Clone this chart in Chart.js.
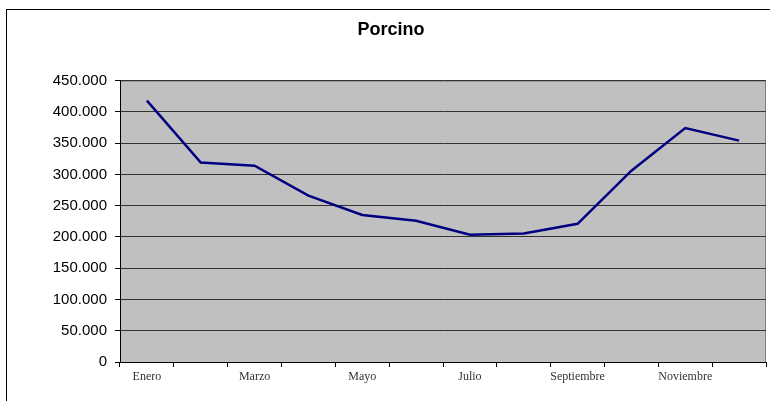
<!DOCTYPE html>
<html>
<head>
<meta charset="utf-8">
<script src="https://cdn.jsdelivr.net/npm/chart.js@4"></script>
<style>
  body { margin: 0; background: #fff; }
</style>
</head>
<body>
<canvas id="chart" width="770" height="401"></canvas>
<script>
const months = ["Enero", "Febrero", "Marzo", "Abril", "Mayo", "Junio", "Julio",
                "Agosto", "Septiembre", "Octubre", "Noviembre", "Diciembre"];
const porcino = [418000, 319000, 314000, 266000, 235000, 226000, 203500,
                 205500, 221000, 306000, 374000, 354000];
const yTicks = [0, 50000, 100000, 150000, 200000, 250000, 300000, 350000, 400000, 450000];

function fmt(v) {
  return String(v).replace(/\B(?=(\d{3})+(?!\d))/g, ".");
}

// gray plot area + outer frame, like the old Excel chart
const excelLook = {
  id: "excelLook",
  beforeDraw(chart) {
    const { ctx, chartArea: a } = chart;
    ctx.save();
    ctx.fillStyle = "#fff";
    ctx.fillRect(0, 0, chart.width, chart.height);
    ctx.fillStyle = "#C0C0C0";
    ctx.fillRect(a.left, a.top, a.right - a.left, a.bottom - a.top);
    ctx.strokeStyle = "#808080";
    ctx.lineWidth = 1;
    ctx.strokeRect(a.left + 0.5, a.top + 0.5, a.right - a.left - 1, a.bottom - a.top);
    ctx.strokeStyle = "#000";
    ctx.strokeRect(6.5, 9.5, chart.width + 20, chart.height + 20);
    ctx.restore();
  }
};

new Chart(document.getElementById("chart").getContext("2d"), {
  type: "line",
  data: {
    labels: months,
    datasets: [{
      label: "Porcino",
      data: porcino,
      borderColor: "#000080",
      borderWidth: 2.5,
      pointRadius: 0,
      tension: 0,
      fill: false
    }]
  },
  options: {
    responsive: false,
    animation: false,
    layout: { padding: { left: 16, right: 4, top: 0, bottom: 0 } },
    plugins: {
      legend: { display: false },
      tooltip: { enabled: false },
      title: {
        display: true,
        text: "Porcino",
        color: "#000",
        font: { family: "Arial, 'Liberation Sans'", size: 18, weight: "bold" },
        padding: { top: 19, bottom: 40 }
      }
    },
    scales: {
      x: {
        offset: true,
        grid: { offset: true, drawOnChartArea: false, tickLength: 5, color: "#000" },
        border: { color: "#000" },
        ticks: {
          autoSkip: false,
          maxRotation: 0,
          padding: 3,
          color: "#333",
          font: { family: "'Liberation Serif', serif", size: 12 },
          callback: (v, i) => (i % 2 === 0 ? months[i] : "")
        },
        afterFit: s => { s.height = 39; }
      },
      y: {
        min: 0,
        max: 450000,
        afterBuildTicks: s => { s.ticks = yTicks.map(v => ({ value: v })); },
        grid: { color: "#333", tickLength: 5, tickColor: "#000" },
        border: { color: "#000" },
        ticks: {
          padding: 8,
          color: "#000",
          font: { family: "Arial, 'Liberation Sans'", size: 15 },
          callback: v => fmt(v)
        },
        afterFit: s => { s.width = 104; }
      }
    }
  },
  plugins: [excelLook]
});
</script>
</body>
</html>
